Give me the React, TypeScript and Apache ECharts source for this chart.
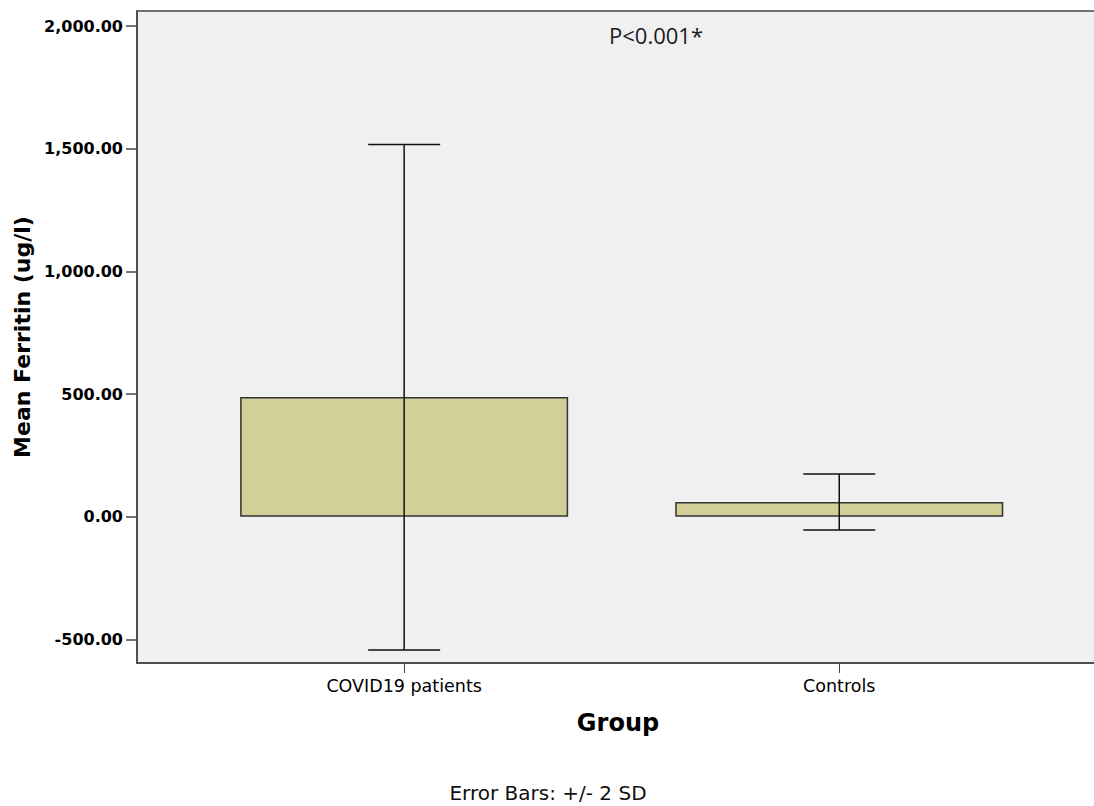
import React, { useEffect, useRef } from "react";
import * as echarts from "echarts";

const categories = ["COVID19 patients", "Controls"];
const categoryPositions = [1, 2];
const means = [488, 60];
const errorLow = [-543, -54];
const errorHigh = [1518, 174];
const yTicks = [-500, 0, 500, 1000, 1500, 2000];

const fmt = (v: number) => {
  const s = Math.abs(v).toFixed(2);
  const [i, d] = s.split(".");
  return (v < 0 ? "-" : "") + i.replace(/\B(?=(\d{3})+(?!\d))/g, ",") + "." + d;
};

export default function App() {
  const ref = useRef<HTMLDivElement>(null);
  useEffect(() => {
    if (!ref.current) return;
    const chart = echarts.init(ref.current, null, { renderer: "svg" });
    const barData = categoryPositions.map((x, i) => [x, means[i]]);
    const errData = categoryPositions.map((x, i) => [x, errorLow[i], errorHigh[i]]);
    chart.setOption({
      animation: false,
      backgroundColor: "#ffffff",
      grid: {
        left: 137,
        width: 962,
        top: 11,
        bottom: 143,
        outerBoundsMode: "none",
        containLabel: false,
        show: true,
        backgroundColor: "#f0f0f0",
        borderColor: "#444444",
        borderWidth: 1.5,
      },
      xAxis: {
        type: "value",
        min: 0.386,
        max: 2.597,
        name: "Group",
        nameLocation: "middle",
        nameGap: 48,
        nameTextStyle: {
          fontFamily: "DejaVu Sans",
          fontWeight: "bold",
          fontSize: 24,
          color: "#000",
        },
        splitLine: { show: false },
        axisLine: { show: true, onZero: false, lineStyle: { color: "#444", width: 1.5 } },
        axisTick: {
          show: true,
          customValues: categoryPositions,
          length: 10,
          lineStyle: { color: "#444", width: 1 },
        },
        axisLabel: {
          customValues: categoryPositions,
          formatter: (v: number) => categories[Math.round(v) - 1] ?? "",
          fontFamily: "DejaVu Sans",
          fontSize: 17.5,
          color: "#000",
          margin: 14,
        },
      },
      yAxis: {
        type: "value",
        min: -596,
        max: 2062,
        name: "Mean Ferritin (ug/l)",
        nameLocation: "middle",
        nameGap: 100,
        nameTextStyle: {
          fontFamily: "DejaVu Sans",
          fontWeight: "bold",
          fontSize: 22,
          color: "#000",
        },
        splitLine: { show: false },
        axisLine: { show: true, onZero: false, lineStyle: { color: "#444", width: 1.5 } },
        axisTick: {
          show: true,
          customValues: yTicks,
          length: 11,
          lineStyle: { color: "#444", width: 1.5 },
        },
        axisLabel: {
          customValues: yTicks,
          formatter: (v: number) => fmt(v),
          fontFamily: "DejaVu Sans",
          fontWeight: "bold",
          fontSize: 16,
          color: "#000",
          margin: 14,
        },
      },
      series: [
        {
          type: "bar",
          data: barData,
          barWidth: 328,
          itemStyle: { color: "#d3cf99", borderColor: "#333333", borderWidth: 1.5 },
          z: 2,
        },
        {
          type: "custom",
          data: errData,
          encode: { x: 0, y: [1, 2] },
          z: 3,
          renderItem: (params: any, api: any) => {
            const x = api.value(0);
            const lo = api.value(1);
            const hi = api.value(2);
            const pHi = api.coord([x, hi]);
            const pLo = api.coord([x, lo]);
            const half = 36;
            const style = { stroke: "#111111", lineWidth: 1.5 };
            return {
              type: "group",
              children: [
                { type: "line", shape: { x1: pHi[0], y1: pHi[1], x2: pLo[0], y2: pLo[1] }, style },
                { type: "line", shape: { x1: pHi[0] - half, y1: pHi[1], x2: pHi[0] + half, y2: pHi[1] }, style },
                { type: "line", shape: { x1: pLo[0] - half, y1: pLo[1], x2: pLo[0] + half, y2: pLo[1] }, style },
              ],
            };
          },
        },
      ],
      graphic: [
        {
          type: "text",
          x: 656,
          y: 35,
          style: {
            text: "P<0.001*",
            fontFamily: "Open Sans",
            fontSize: 22,
            fill: "#1a1a24",
            align: "center",
            verticalAlign: "middle",
          },
        },
        {
          type: "text",
          x: 548,
          y: 793,
          style: {
            text: "Error Bars: +/- 2 SD",
            fontFamily: "DejaVu Sans",
            fontSize: 20,
            fill: "#111",
            align: "center",
            verticalAlign: "middle",
          },
        },
      ],
    });
    return () => chart.dispose();
  }, []);
  return (
    <div
      ref={ref}
      style={{ position: "fixed", left: 0, top: 0, width: 1094, height: 806 }}
    />
  );
}
